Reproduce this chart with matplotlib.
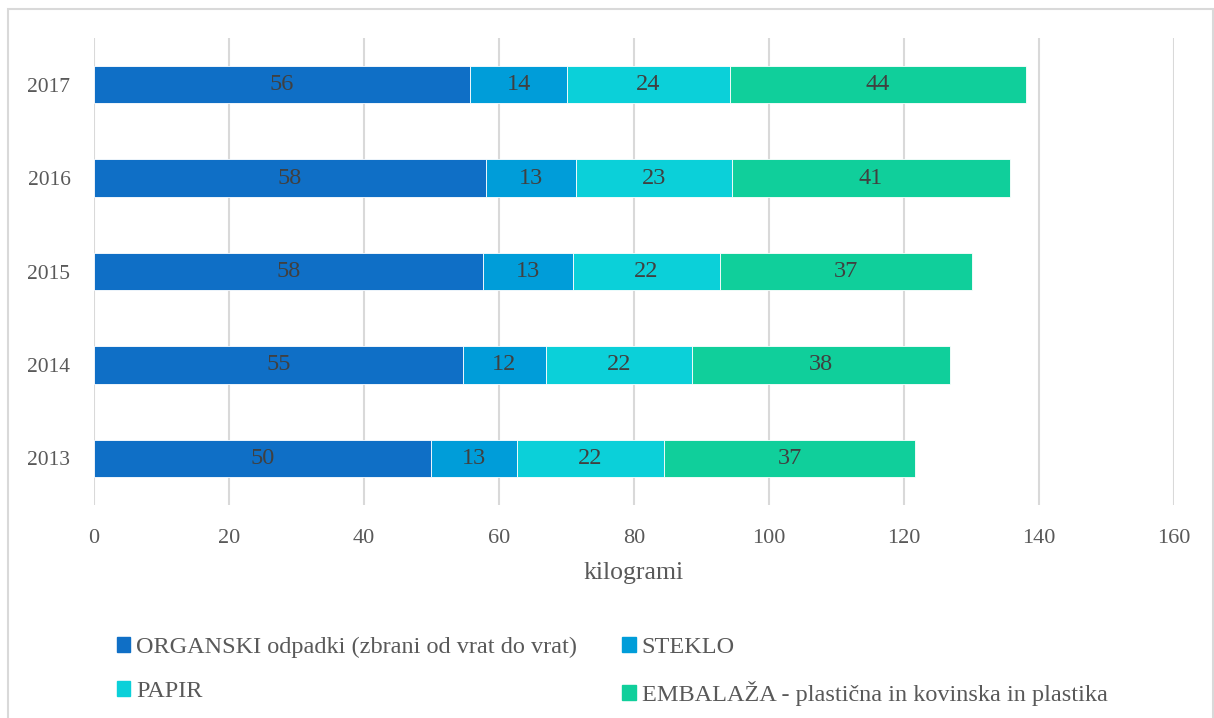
import matplotlib.pyplot as plt
from matplotlib.patches import Rectangle, Patch

# dati (kg na prebivalca)
years = ['2013', '2014', '2015', '2016', '2017']
organski = [49.9, 54.6, 57.6, 58.1, 55.7]
steklo = [12.7, 12.4, 13.3, 13.3, 14.4]
papir = [21.9, 21.6, 21.8, 23.1, 24.1]
embalaza = [37.2, 38.2, 37.3, 41.2, 43.9]

series = [
    ('ORGANSKI odpadki (zbrani od vrat do vrat)', organski, '#0F6FC6'),
    ('STEKLO', steklo, '#009DD9'),
    ('PAPIR', papir, '#0BD0D9'),
    ('EMBALAŽA - plastična in kovinska in plastika', embalaza, '#10CF9B'),
]

plt.rcParams['font.family'] = ['Liberation Serif', 'DejaVu Serif']
text_col = '#595959'

fig = plt.figure(figsize=(12.14, 7.18), dpi=100)
ax = fig.add_axes([94 / 1214, 1 - 505 / 718, 1080 / 1214, 467 / 718])

left = [0.0] * len(years)
for name, vals, col in series:
    bars = ax.barh(years, vals, left=left, height=0.4, color=col,
                   edgecolor='white', linewidth=0.6, label=name, zorder=3)
    ax.bar_label(bars, labels=[f'{v:.0f}' for v in vals], label_type='center',
                 fontsize=17.5, color='#404040')
    left = [a + b for a, b in zip(left, vals)]

ax.set_xlim(0, 160)
ax.set_ylim(-0.5, 4.5)
ax.set_xticks(range(0, 161, 20))
ax.grid(axis='x', color='#D9D9D9', linewidth=1.5, zorder=0)
ax.set_axisbelow(True)
for s in ax.spines.values():
    s.set_visible(False)
ax.tick_params(axis='both', length=0, colors=text_col)
ax.tick_params(axis='y', pad=17, labelsize=15.5)
ax.tick_params(axis='x', pad=17, labelsize=16)
ax.set_xlabel('kilogrami', fontsize=18.5, color=text_col, labelpad=10)

# legenda
handles = [Patch(color=c) for _, _, c in series]
labels = [n for n, _, _ in series]
order = [0, 2, 1, 3]
fig.legend([handles[i] for i in order], [labels[i] for i in order],
           ncol=2, loc='upper left', bbox_to_anchor=(95 / 1214, 1 - 615 / 718),
           frameon=False, fontsize=17.5, labelcolor=text_col,
           handlelength=0.55, handleheight=0.55, handletextpad=0.25,
           columnspacing=1.85, labelspacing=0.95)

# okvir
fig.patches.append(Rectangle((8 / 1214, -0.05), 1205 / 1214, 1.05 - 9 / 718,
                             transform=fig.transFigure, fill=False,
                             edgecolor='#D9D9D9', linewidth=1.5))

fig.savefig('out.png', dpi=100)
